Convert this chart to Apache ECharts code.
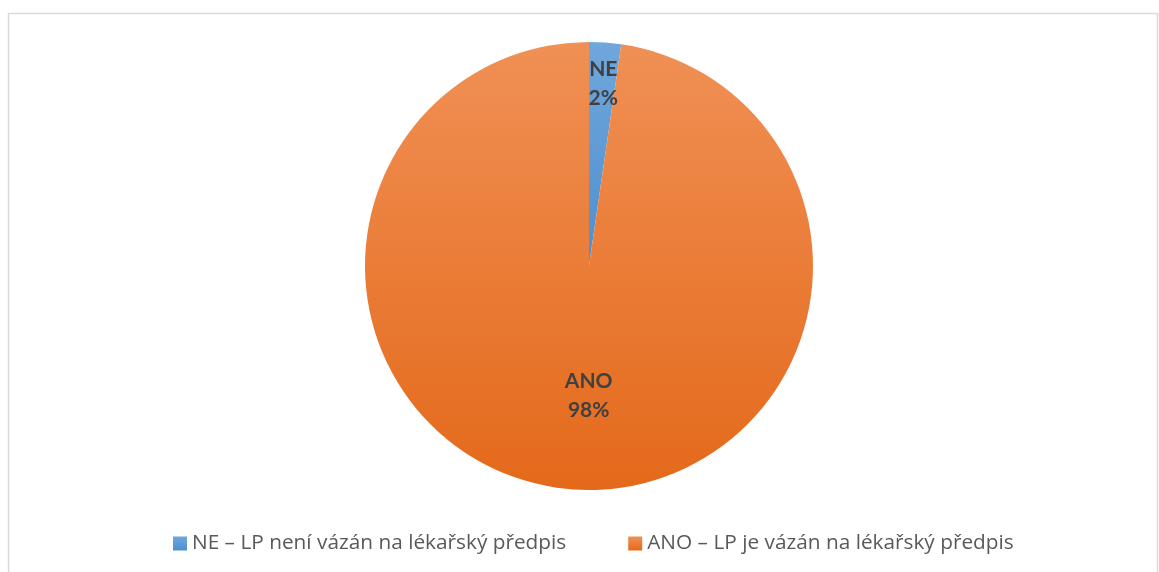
<!DOCTYPE html>
<html>
<head>
<meta charset="utf-8">
<script src="https://cdn.jsdelivr.net/npm/echarts@6/dist/echarts.min.js"></script>
<style>
html,body{margin:0;padding:0;background:#fff;}
#chart{width:1159px;height:572px;}
</style>
</head>
<body>
<div id="chart"></div>
<script>
const categories = ['NE', 'ANO'];
const legendNames = ['NE – LP není vázán na lékařský předpis', 'ANO – LP je vázán na lékařský předpis'];
const values = [2.3, 97.7];
const percentLabels = ['2%', '98%'];

const grad = (top, bottom) => new echarts.graphic.LinearGradient(0, 0, 0, 1, [
  {offset: 0, color: top}, {offset: 1, color: bottom}
]);
const sliceColors = [grad('#70A7DC', '#4E8FCF'), grad('#F09055', '#E4691A')];
const labelOffsets = [[6, -68], [8, 15]];

const chart = echarts.init(document.getElementById('chart'));
chart.setOption({
  animation: false,
  graphic: [{
    type: 'rect', shape: {x: 8.5, y: 13.5, width: 1149, height: 600},
    style: {fill: 'none', stroke: '#d9d9d9', lineWidth: 1.5}, silent: true
  }],
  legend: {
    bottom: 13, left: 168,
    itemWidth: 14, itemHeight: 14, itemGap: 62,
    icon: 'rect',
    textStyle: {fontFamily: 'Open Sans', fontSize: 20.8, color: '#595959'},
    data: legendNames
  },
  series: [{
    type: 'pie',
    center: [589, 266], radius: 224,
    startAngle: 90, clockwise: true,
    label: {
      show: true, position: 'inside',
      fontFamily: 'Lato', fontWeight: 'bold', fontSize: 21, color: '#404040',
      lineHeight: 29,
      formatter: p => categories[p.dataIndex] + '\n' + percentLabels[p.dataIndex]
    },
    labelLine: {show: false},
    emphasis: {disabled: true},
    data: values.map((v, i) => ({
      name: legendNames[i], value: v,
      itemStyle: {color: sliceColors[i], borderWidth: 0},
      label: {offset: labelOffsets[i]}
    }))
  }]
});
</script>
</body>
</html>
